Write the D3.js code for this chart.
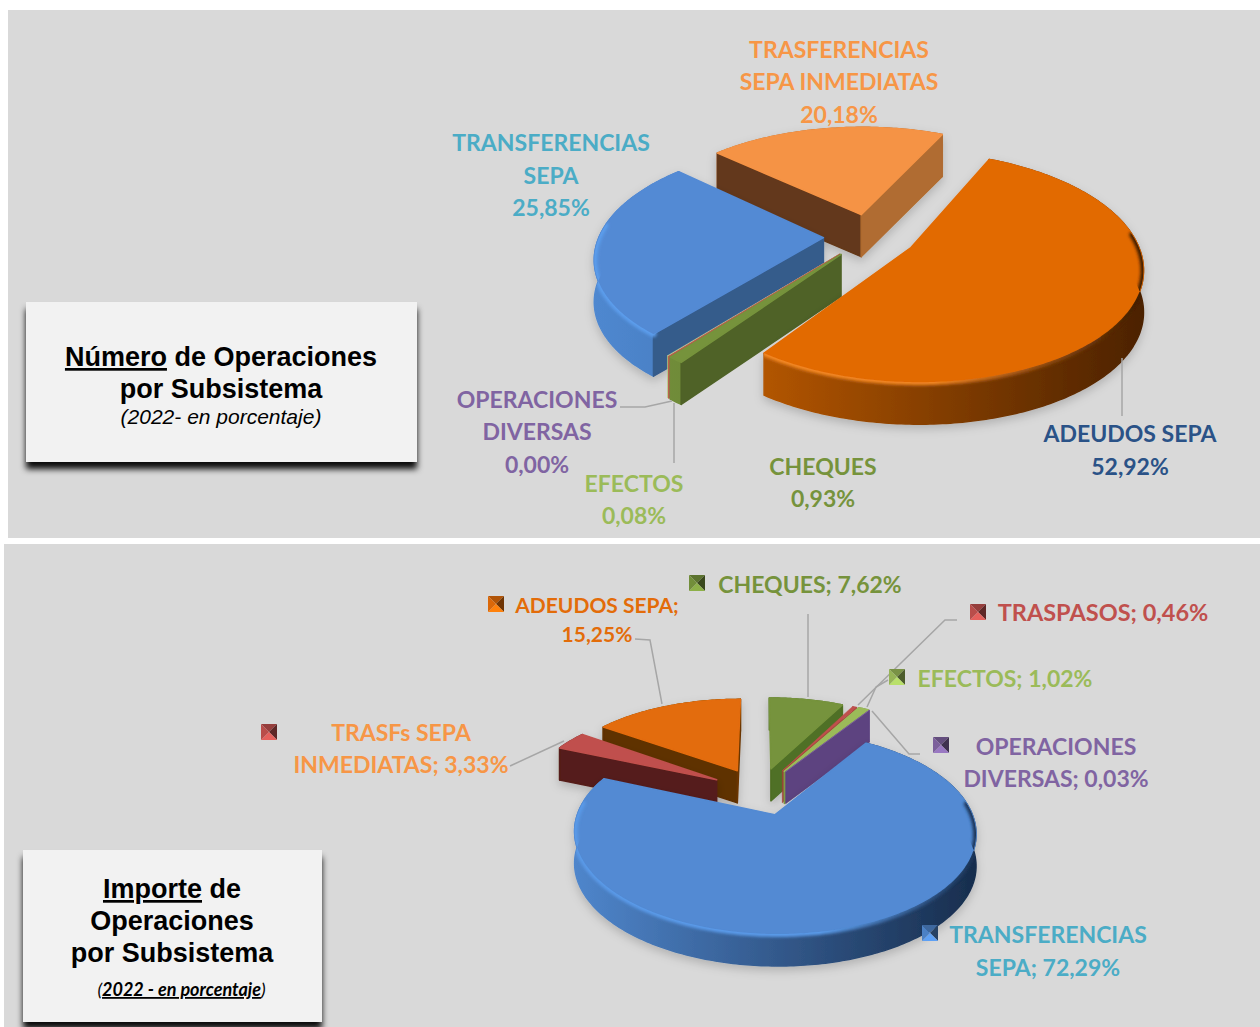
<!DOCTYPE html>
<html><head><meta charset="utf-8">
<script src="https://cdn.jsdelivr.net/npm/d3@7/dist/d3.min.js"></script>
<style>html,body{margin:0;padding:0;background:#fff}svg{display:block}
.lab{font-family:Lato,"Open Sans",sans-serif;font-weight:700;font-size:23px}
.ttl{font-family:"Liberation Sans",Arial,sans-serif;font-weight:700;font-size:27px;fill:#000;text-anchor:middle}
</style></head><body>
<script>
// ---------- data ----------
const categories = ["ADEUDOS SEPA","CHEQUES","TRASPASOS","EFECTOS","OPERACIONES DIVERSAS","TRANSFERENCIAS SEPA","TRASF SEPA INMEDIATAS"];
const numeroValues  = [52.92, 0.93, 0.04, 0.08, 0.00, 25.85, 20.18];
const importeCats = ["CHEQUES","TRASPASOS","EFECTOS","OPERACIONES DIVERSAS","TRANSFERENCIAS SEPA","TRASF SEPA INMEDIATAS","ADEUDOS SEPA"];
const importeValues = [7.62, 0.46, 1.02, 0.03, 72.29, 3.33, 15.25];
const numeroOrder  = ["TRASF SEPA INMEDIATAS","TRANSFERENCIAS SEPA","OPERACIONES DIVERSAS","EFECTOS","TRASPASOS","CHEQUES","ADEUDOS SEPA"];
const importeOrder = ["CHEQUES","TRASPASOS","EFECTOS","OPERACIONES DIVERSAS","ADEUDOS SEPA","TRASF SEPA INMEDIATAS","TRANSFERENCIAS SEPA"];

// top colour, wall gradient (left,right), rim gradient (left,mid,right), start-edge face, end-edge face
const numeroStyle = {
 "ADEUDOS SEPA":["#e26a06",["#e06c00","#4c2200"],["#f58a28","#f08420","#3c1a00"],"#5a2c00","#5a2c00"],
 "CHEQUES":["#76933c",["#76933c","#4f6228"],["#8fb04a","#8fb04a","#76933c"],"#4f6227","#4f6227"],
 "TRASPASOS":["#c0504d",["#c0504d","#c0504d"],["#c0504d","#c0504d","#c0504d"],"#c0504d","#c0504d"],
 "EFECTOS":["#c3d69b",["#b7cf85","#9bbb59"],["#c3d69b","#c3d69b","#c3d69b"],"#9bbb59","#9bbb59"],
 "OPERACIONES DIVERSAS":["#8064a2",["#8064a2","#5d4380"],["#8064a2","#8064a2","#8064a2"],"#5d4380","#5d4380"],
 "TRANSFERENCIAS SEPA":["#538ad4",["#4f88d0","#2a4f80"],["#5c9dec","#5c9dec","#3a6aa8"],"#355b8b","#355b8b"],
 "TRASF SEPA INMEDIATAS":["#f59345",["#c07030","#a86428"],["#f59345","#f59345","#f59345"],"#64381a","#b06c30"]
};
const importeStyle = {
 "ADEUDOS SEPA":["#e36c09",["#7a3d00","#5f3000"],["#e36c09","#e36c09","#e36c09"],"#5f3000","#6a3500"],
 "CHEQUES":["#76933c",["#5a7f2e","#4f6f25"],["#76933c","#76933c","#76933c"],"#5a7f2e","#4f6f25"],
 "TRASPASOS":["#c0504d",["#a33c39","#8a3330"],["#c0504d","#c0504d","#c0504d"],"#a33c39","#a33c39"],
 "EFECTOS":["#9bbb59",["#7e9a45","#6e8a3a"],["#9bbb59","#9bbb59","#9bbb59"],"#7e9a45","#7e9a45"],
 "OPERACIONES DIVERSAS":["#8064a2",["#5d4380","#5d4380"],["#8064a2","#8064a2","#8064a2"],"#5d4380","#5d4380"],
 "TRANSFERENCIAS SEPA":["#528ad3",["#4f86cc","#182e4e"],["#5a9ae8","#5a9ae8","#1c3558"],"#355b8b","#355b8b"],
 "TRASF SEPA INMEDIATAS":["#c0504d",["#551d1a","#551d1a"],["#6a2522","#6a2522","#551d1a"],"#551d1a","#551d1a"]
};

const topLabels = [
 {lines:["TRASFERENCIAS","SEPA INMEDIATAS","20,18%"],x:839,y:[49,81,114],c:"#f79646"},
 {lines:["TRANSFERENCIAS","SEPA","25,85%"],x:551,y:[142,175,207],c:"#4bacc6"},
 {lines:["OPERACIONES","DIVERSAS","0,00%"],x:537,y:[399,431,464],c:"#8064a2"},
 {lines:["EFECTOS","0,08%"],x:634,y:[483,515],c:"#9bbb59"},
 {lines:["CHEQUES","0,93%"],x:823,y:[466,498],c:"#76933c"},
 {lines:["ADEUDOS SEPA","52,92%"],x:1130,y:[433,466],c:"#2a5287"}
];
const bottomLabels = [
 {lines:["CHEQUES; 7,62%"],x:810,y:[584],c:"#76933c",m:[697,583],mc:"#76933c"},
 {lines:["ADEUDOS SEPA;","15,25%"],x:597,y:[604,633],c:"#e36c09",m:[496,604],mc:"#e36c09",fs:21},
 {lines:["TRASPASOS; 0,46%"],x:1103,y:[612],c:"#c0504d",m:[978,612],mc:"#c0504d",fs:23.5},
 {lines:["EFECTOS; 1,02%"],x:1005,y:[678],c:"#9bbb59",m:[897,677],mc:"#9bbb59"},
 {lines:["OPERACIONES","DIVERSAS; 0,03%"],x:1056,y:[746,778],c:"#8064a2",m:[941,745],mc:"#8064a2"},
 {lines:["TRASFs SEPA","INMEDIATAS; 3,33%"],x:401,y:[732,764],c:"#f79646",m:[269,732],mc:"#c0504d"},
 {lines:["TRANSFERENCIAS","SEPA; 72,29%"],x:1048,y:[934,967],c:"#4bacc6",m:[930,933],mc:"#4f86cc"}
];
const topLeaders = [
 [[1122,358],[1122,416]],
 [[620,407],[645,407],[672,401]],
 [[674,403],[674,463]]
];
const bottomLeaders = [
 [[808,614],[808,697]],
 [[635,639],[650,640],[662,704]],
 [[564,741],[510,766]],
 [[957,620],[945,620],[858,705]],
 [[867,707],[876,687],[888,680]],
 [[872,711],[909,754],[920,754]]
];

// ---------- canvas ----------
const svg = d3.select("body").append("svg").attr("width",1260).attr("height",1027);
const defs = svg.append("defs");
defs.append("filter").attr("id","rimBlur").attr("x","-20%").attr("y","-20%").attr("width","140%").attr("height","140%")
  .append("feGaussianBlur").attr("stdDeviation",1.6);
const sh = defs.append("filter").attr("id","softShadow").attr("x","-20%").attr("y","-20%").attr("width","140%").attr("height","150%");
sh.append("feDropShadow").attr("dx",0).attr("dy",4).attr("stdDeviation",5).attr("flood-color","#000").attr("flood-opacity",.18);
const bx = defs.append("filter").attr("id","boxShadow").attr("x","-10%").attr("y","-10%").attr("width","120%").attr("height","125%");
bx.append("feDropShadow").attr("dx",0).attr("dy",7).attr("stdDeviation",3).attr("flood-color","#000").attr("flood-opacity",.95);

svg.append("rect").attr("x",8).attr("y",10).attr("width",1252).attr("height",528).attr("fill","#d9d9d9");
svg.append("rect").attr("x",4).attr("y",544).attr("width",1256).attr("height",483).attr("fill","#d9d9d9");

const lineGen = d3.line();
let gid = 0;
function hGrad(x0,x1,colors){
  const id = "g"+(gid++);
  const g = defs.append("linearGradient").attr("id",id).attr("gradientUnits","userSpaceOnUse")
    .attr("x1",x0).attr("x2",x1).attr("y1",0).attr("y2",0);
  colors.forEach((c,i)=>g.append("stop").attr("offset",colors.length==3?[0,.62,1][i]:i/(colors.length-1)).attr("stop-color",c));
  return `url(#${id})`;
}

function drawPie(o){
  const pie = d3.pie().sort(null).value(d=>d.v).startAngle(o.start).endAngle(o.start+2*Math.PI);
  const arcs = pie(o.cats.map((n,i)=>({n,v:o.vals[i]})));
  const byName = new Map(arcs.map(a=>[a.data.n,a]));
  const xs = d3.scaleLinear().domain([-1,1]).range([o.cx-o.R,o.cx+o.R]);
  const ys = d3.scaleLinear().domain([-1,1]).range([o.cy-o.R*o.k,o.cy+o.R*o.k]);
  const P = (X,Y,z=0)=>{const w=1-o.p*Y;return [xs(X/w),ys(Y/w)+z];};
  const root = svg.append("g");
  o.order.forEach(name=>{
    const a = byName.get(name); if(!a || a.data.v<0.005) return;
    const st = o.style[name];
    const mid=(a.startAngle+a.endAngle)/2, ex=o.e*Math.sin(mid), ey=-o.e*Math.cos(mid);
    const steps=Math.max(2,Math.ceil((a.endAngle-a.startAngle)/0.015));
    const ang=d3.range(steps+1).map(i=>a.startAngle+(a.endAngle-a.startAngle)*i/steps);
    const raw=ang.map(t=>[ex+Math.sin(t),ey-Math.cos(t),t]);
    const top=raw.map(r=>P(r[0],r[1]));
    const bot=raw.map(r=>P(r[0],r[1],o.T)).reverse();
    const ap=P(ex,ey), apB=P(ex,ey,o.T);
    const g=root.append("g").attr("filter",a.data.v>2?"url(#softShadow)":null);
    const sw=a.data.v<0.5?0.5:1.5;
    const wall=hGrad(o.gx[0],o.gx[1],st[1]);
    g.append("path").attr("d",lineGen(top.concat(bot))+"Z").attr("fill",wall).attr("stroke",wall).attr("stroke-width",sw).attr("stroke-linejoin","round");
    const face=(p0,c)=>g.append("path").attr("d",lineGen([ap,p0,[p0[0],p0[1]+o.T],apB])+"Z").attr("fill",c).attr("stroke",c).attr("stroke-width",sw).attr("stroke-linejoin","round");
    // a cut face shows only when its outward normal points towards the viewer
    if(-Math.sin(a.startAngle)>0) face(top[0],st[3]);
    if(Math.sin(a.endAngle)>0) face(top[top.length-1],st[4]);
    const faceD=lineGen([ap].concat(top))+"Z";
    g.append("path").attr("d",faceD).attr("fill",st[0]).attr("stroke",st[0]).attr("stroke-width",sw).attr("stroke-linejoin","round");
    if(a.data.v>2){
      const cid="c"+(gid++);
      defs.append("clipPath").attr("id",cid).append("path").attr("d",lineGen([ap].concat(top,bot))+"Z");
      const front=raw.map((r,i)=>[r,top[i]]).filter(d=>-Math.cos(d[0][2])>-0.12).map(d=>d[1]);
      if(front.length>2) g.append("g").attr("clip-path",`url(#${cid})`).append("path").attr("d",lineGen(front)).attr("fill","none")
        .attr("stroke",hGrad(o.gx[0],o.gx[1],st[2])).attr("stroke-width",6).attr("filter","url(#rimBlur)").attr("stroke-linecap","round");
    }
  });
}

drawPie({cats:categories,vals:numeroValues,order:numeroOrder,style:numeroStyle,start:25*Math.PI/180,
  cx:870,cy:236,R:224,k:.483,p:.165,e:.208,T:42,gx:[592,1143]});
drawPie({cats:importeCats,vals:importeValues,order:importeOrder,style:importeStyle,start:0,
  cx:759.5,cy:791,R:189,k:.475,p:.17,e:.265,T:32,gx:[573,973]});

// leaders
const leaders = svg.append("g").attr("fill","none").attr("stroke","#a6a6a6").attr("stroke-width",1.5);
topLeaders.concat(bottomLeaders).forEach(l=>leaders.append("path").attr("d",lineGen(l)));

// labels
function drawLabels(list){
  list.forEach(L=>{
    L.lines.forEach((t,i)=>{
      const n=svg.append("text").attr("class","lab").attr("x",L.x).attr("y",L.y[i]+8.5)
        .attr("text-anchor","middle").attr("fill",L.c).text(t);
      if(L.fs) n.style("font-size",L.fs+"px");
    });
    if(L.m) marker(L.m[0],L.m[1],L.mc);
  });
}
function marker(x,y,c){
  const s=8, col=d3.color(c), g=svg.append("g");
  const tris=[
    [[[-s,-s],[s,-s],[0,0]],col.darker(.7)],
    [[[s,-s],[s,s],[0,0]],col.darker(2)],
    [[[s,s],[-s,s],[0,0]],col.brighter(.5)],
    [[[-s,s],[-s,-s],[0,0]],col.darker(.1)]
  ];
  tris.forEach(([pts,f])=>g.append("path").attr("d",lineGen(pts.map(p=>[x+p[0],y+p[1]]))+"Z").attr("fill",f));
}
drawLabels(topLabels);
drawLabels(bottomLabels);

// title boxes
svg.append("rect").attr("x",26).attr("y",302).attr("width",391).attr("height",160).attr("fill","#f2f2f2").attr("filter","url(#boxShadow)");
svg.append("rect").attr("x",23).attr("y",850).attr("width",299).attr("height",172).attr("fill","#f2f2f2").attr("filter","url(#boxShadow)");
function title(x,y,parts){
  const t=svg.append("text").attr("class","ttl").attr("x",x).attr("y",y);
  parts.forEach(p=>{const s=t.append("tspan").text(p[0]); if(p[1]) s.attr("text-decoration","underline");});
  return t;
}
title(221,366,[["Número",1],[" de Operaciones"]]);
title(221,398,[["por Subsistema"]]);
title(221,424,[["(2022- en porcentaje)"]]).style("font-weight",400).style("font-style","italic").style("font-size","21px");
title(172,898,[["Importe",1],[" de"]]);
title(172,930,[["Operaciones"]]);
title(172,962,[["por Subsistema"]]);
const sub=svg.append("text").attr("x",181.5).attr("y",996).attr("text-anchor","middle")
  .style("font-family","Lato,sans-serif").style("font-style","italic").style("font-size","18px").attr("fill","#000");
sub.append("tspan").text("(");
sub.append("tspan").text("2022 - en porcentaje").attr("text-decoration","underline").style("font-weight",700);
sub.append("tspan").text(")");
</script>
</body></html>
